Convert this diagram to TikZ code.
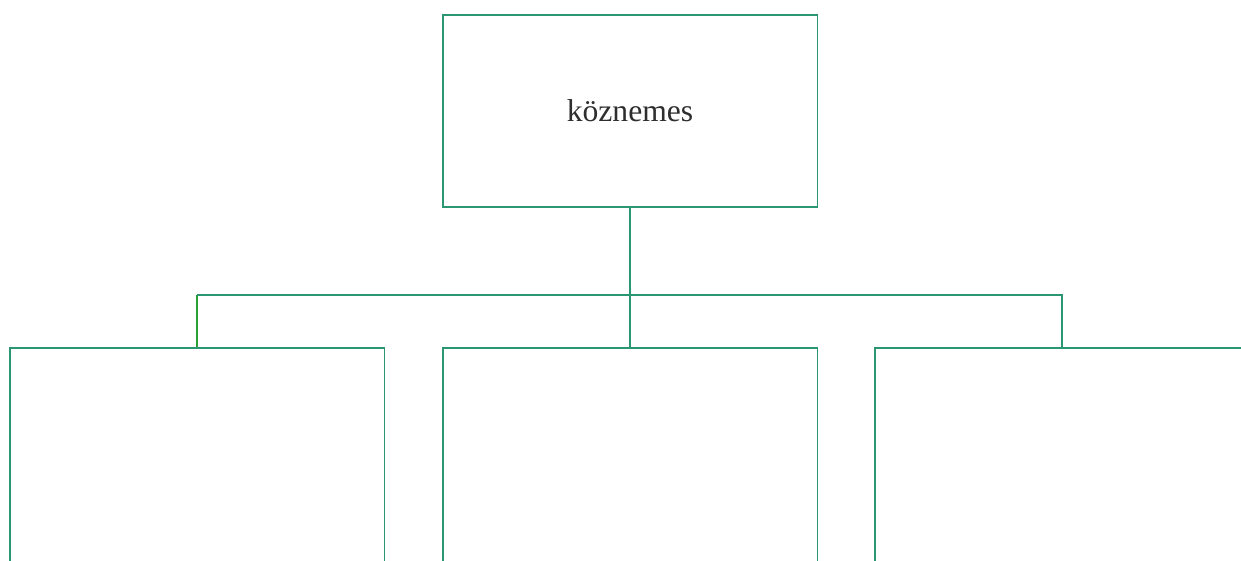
\documentclass[tikz,border=0pt]{standalone}
\usepackage{fontspec}
\setmainfont{Liberation Serif}
\usetikzlibrary{positioning,calc}
\definecolor{treegreen}{HTML}{2A9772}
\definecolor{leafgreen}{HTML}{2AA033}
\definecolor{labelgray}{HTML}{2E2E2E}
\tikzset{
    box/.style={draw=treegreen, line width=1.1pt, minimum width=7.5cm, minimum height=3.84cm, inner sep=0pt},
    openbox/.style={box, minimum height=6cm},
    link/.style={draw=treegreen, line width=1.1pt}
}

\begin{document}
\begin{tikzpicture}[x=0.02cm, y=-0.02cm]
    \useasboundingbox (0,0) rectangle (1241,561);
    \clip (0,0) rectangle (1241,561);
    % top node
    \node[box, text=labelgray, font=\fontsize{18}{20}\selectfont] (top) at (630,111) {köznemes};
    % bottom nodes (cut off by the page edge)
    \node[openbox] (left) at (197,498) {};
    \node[openbox] (mid) at (630,498) {};
    \node[openbox] (right) at (1062,498) {};
    % connectors
    \coordinate (bus) at (630,295);
    \draw[link] (top.south) -- (mid.north);
    \draw[link, draw=leafgreen] (left.north) -- (left.north |- bus);
    \draw[link] (left.north |- bus) -- (right.north |- bus) -- (right.north);
\end{tikzpicture}
\end{document}
